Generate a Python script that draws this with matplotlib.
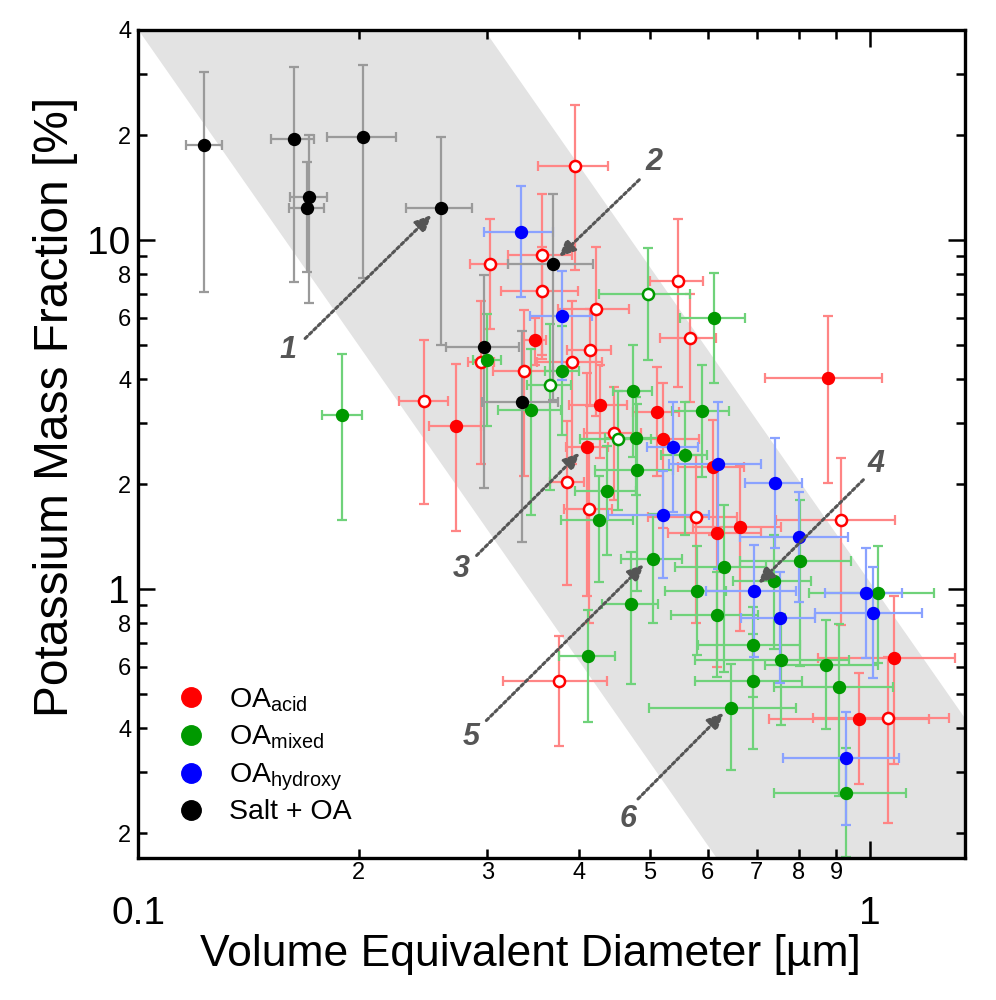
import matplotlib
matplotlib.use('Agg')
import matplotlib.pyplot as plt
from matplotlib.ticker import FixedLocator, FixedFormatter
import numpy as np

plt.rcParams['font.family'] = ['Liberation Sans Narrow', 'Liberation Sans', 'DejaVu Sans']

# ---- data: diameter [um], K mass fraction [%], symmetric errors ----
# OA acid (red); hollow = open marker
acid_x = [0.272, 0.348, 0.427, 0.411, 0.512, 0.521, 0.610, 0.619, 0.664, 0.878, 0.967, 1.078,
          0.395, 0.356, 0.356, 0.302, 0.422, 0.414, 0.391, 0.546, 0.567, 0.337, 0.447, 0.386,
          0.413, 0.578, 0.246, 0.294, 0.376, 0.914, 1.060]
acid_y = [2.94, 5.19, 3.38, 2.56, 3.22, 2.70, 2.24, 1.45, 1.51, 4.04, 0.426, 0.636,
          16.3, 9.06, 7.14, 8.52, 6.34, 4.86, 4.48, 7.63, 5.23, 4.22, 2.80, 2.03,
          1.70, 1.61, 3.46, 4.48, 0.546, 1.58, 0.428]
acid_xerr = [0.022, 0.013, 0.039, 0.027, 0.037, 0.063, 0.063, 0.090, 0.091, 0.160, 0.239, 0.228,
             0.043, 0.036, 0.043, 0.018, 0.047, 0.029, 0.040, 0.046, 0.050, 0.032, 0.040, 0.021,
             0.031, 0.081, 0.019, 0.012, 0.061, 0.169, 0.223]
acid_yerr = [1.47, 0.8, 1.0, 1.6, 1.11, 1.2, 0.81, 0.85, 0.75, 2.02, 0.149, 0.32,
             8.1, 4.5, 2.45, 2.95, 3.2, 1.5, 2.2, 3.84, 1.8, 2.11, 1.0, 1.0,
             0.9, 0.81, 1.71, 2.2, 0.19, 0.79, 0.214]
acid_hollow = [False] * 12 + [True] * 19

# OA mixed (green)
mixed_x = [0.190, 0.300, 0.344, 0.380, 0.613, 0.475, 0.589, 0.479, 0.559, 0.480, 0.437, 0.426,
           0.505, 0.631, 0.580, 0.619, 0.472, 0.412, 0.646, 0.692, 0.692, 0.757, 0.872, 0.907,
           0.929, 1.025, 0.740, 0.803, 0.365, 0.452, 0.497]
mixed_y = [3.15, 4.53, 3.26, 4.22, 5.97, 3.70, 3.24, 2.71, 2.43, 2.19, 1.91, 1.58,
           1.22, 1.16, 0.987, 0.842, 0.906, 0.644, 0.457, 0.546, 0.691, 0.628, 0.608, 0.526,
           0.261, 0.975, 1.054, 1.203, 3.84, 2.69, 7.0]
mixed_xerr = [0.012, 0.013, 0.034, 0.020, 0.063, 0.029, 0.052, 0.045, 0.040, 0.059, 0.042, 0.048,
              0.048, 0.090, 0.055, 0.085, 0.041, 0.036, 0.147, 0.116, 0.110, 0.180, 0.153, 0.168,
              0.190, 0.200, 0.090, 0.139, 0.025, 0.050, 0.071]
mixed_yerr = [1.57, 1.6, 1.63, 1.46, 2.06, 1.3, 1.14, 0.85, 1.0, 1.2, 0.66, 0.53,
              0.42, 0.58, 0.34, 0.28, 0.37, 0.227, 0.153, 0.198, 0.2, 0.22, 0.21, 0.27,
              0.09, 0.36, 0.38, 0.6, 1.92, 1.0, 2.47]
mixed_hollow = [False] * 28 + [True] * 3

# OA hydroxy (blue)
hydroxy_x = [0.333, 0.380, 0.539, 0.621, 0.742, 0.521, 0.799, 0.695, 0.754, 0.987, 1.010, 0.929]
hydroxy_y = [10.56, 6.07, 2.55, 2.29, 2.01, 1.63, 1.41, 0.989, 0.830, 0.977, 0.856, 0.329]
hydroxy_xerr = [0.036, 0.037, 0.043, 0.090, 0.067, 0.082, 0.134, 0.097, 0.087, 0.118, 0.168, 0.169]
hydroxy_yerr = [3.7, 2.1, 0.88, 1.15, 0.70, 0.55, 0.49, 0.35, 0.29, 0.34, 0.30, 0.117]

# Salt + OA (black)
salt_x = [0.123, 0.163, 0.171, 0.170, 0.203, 0.259, 0.369, 0.297, 0.335]
salt_y = [18.7, 19.5, 13.3, 12.4, 19.8, 12.4, 8.53, 4.95, 3.44]
salt_xerr = [0.007, 0.011, 0.010, 0.0094, 0.022, 0.027, 0.049, 0.034, 0.040]
salt_yerr = [11.6, 11.9, 6.7, 4.3, 12.0, 7.4, 5.05, 3.0, 2.07]

# grey band: K mass fraction = c * d^-3
band_lo, band_hi = 0.04, 1.05

# numbered arrows: label position, tail, head
arrow_labels = ['1', '2', '3', '4', '5', '6']
arrow_text = [(0.160, 4.84), (0.507, 16.8), (0.276, 1.146), (1.019, 2.29), (0.285, 0.377), (0.467, 0.220)]
arrow_tail = [(0.169, 5.23), (0.484, 14.9), (0.290, 1.25), (0.980, 2.06), (0.299, 0.421), (0.482, 0.251)]
arrow_head = [(0.2515, 11.8), (0.376, 8.96), (0.401, 2.46), (0.704, 1.038), (0.491, 1.179), (0.631, 0.443)]

x_major = [0.1, 1]
x_major_labels = ['0.1', '1']
x_minor = [0.2, 0.3, 0.4, 0.5, 0.6, 0.7, 0.8, 0.9]
x_minor_labels = ['2', '3', '4', '5', '6', '7', '8', '9']
y_major = [1, 10]
y_major_labels = ['1', '10']
y_minor = [0.2, 0.3, 0.4, 0.5, 0.6, 0.7, 0.8, 0.9, 2, 3, 4, 5, 6, 7, 8, 9, 20, 30, 40]
y_minor_labels = ['2', '', '4', '', '6', '', '8', '', '2', '', '4', '', '6', '', '8', '', '2', '', '4']

groups = [
    (acid_x, acid_y, acid_xerr, acid_yerr, acid_hollow, '#ff0000', '#ff8585'),
    (mixed_x, mixed_y, mixed_xerr, mixed_yerr, mixed_hollow, '#009900', '#6fd27a'),
    (hydroxy_x, hydroxy_y, hydroxy_xerr, hydroxy_yerr, [False] * 12, '#0000ff', '#8aa2ff'),
    (salt_x, salt_y, salt_xerr, salt_yerr, [False] * 9, '#000000', '#9a9a9a'),
]
legend_names = [r'OA$_\mathregular{acid}$', r'OA$_\mathregular{mixed}$',
                r'OA$_\mathregular{hydroxy}$', 'Salt + OA']

fig = plt.figure(figsize=(9.96, 10), dpi=100)
ax = fig.add_axes([0.139, 0.142, 0.830, 0.828])
ax.set_xscale('log')
ax.set_yscale('log')
ax.set_xlim(0.1, 1.35)
ax.set_ylim(0.17, 40)

xb = np.logspace(-1, np.log10(1.35), 60)
ax.fill_between(xb, band_lo * xb ** -3, band_hi * xb ** -3, color='#e3e3e3', lw=0, zorder=0)

# error bars first, markers on top
for xs, ys, xe, ye, hol, col, bcol in groups:
    ax.errorbar(xs, ys, xerr=xe, yerr=ye, fmt='none', ecolor=bcol, elinewidth=1.6,
                capsize=3.4, capthick=1.6, zorder=2)
for xs, ys, xe, ye, hol, col, bcol in groups:
    xs, ys, hol = np.array(xs), np.array(ys), np.array(hol)
    ax.plot(xs[~hol], ys[~hol], 'o', ms=8.6, color=col, mec=col, zorder=3)
    if hol.any():
        ax.plot(xs[hol], ys[hol], 'o', ms=8.0, mfc='white', mec=col, mew=1.8, zorder=3)

for lab, tpos, tail, head in zip(arrow_labels, arrow_text, arrow_tail, arrow_head):
    ax.annotate('', xy=head, xytext=tail,
                arrowprops=dict(arrowstyle='-|>,head_length=0.6,head_width=0.28',
                                color='#555555', lw=2.2, linestyle=(0, (1, 1)),
                                mutation_scale=16, shrinkA=0, shrinkB=0),
                zorder=5)
    ax.text(tpos[0], tpos[1], lab, fontsize=22, fontweight='bold', fontstyle='italic',
            color='#555555', ha='center', va='center', family=['Liberation Sans', 'DejaVu Sans'],
            zorder=5)

# legend drawn by hand
for i, (g, name) in enumerate(zip(groups, legend_names)):
    yy = 0.194 - i * 0.0454
    ax.plot([0.0637], [yy], 'o', ms=14, color=g[5], transform=ax.transAxes, clip_on=False, zorder=6)
    ax.text(0.110, yy - 0.0113, name, transform=ax.transAxes, fontsize=20.5, va='baseline',
            ha='left', family=['Liberation Sans', 'DejaVu Sans'], zorder=6)

ax.xaxis.set_major_locator(FixedLocator(x_major))
ax.xaxis.set_major_formatter(FixedFormatter(x_major_labels))
ax.xaxis.set_minor_locator(FixedLocator(x_minor))
ax.xaxis.set_minor_formatter(FixedFormatter(x_minor_labels))
ax.yaxis.set_major_locator(FixedLocator(y_major))
ax.yaxis.set_major_formatter(FixedFormatter(y_major_labels))
ax.yaxis.set_minor_locator(FixedLocator(y_minor))
ax.yaxis.set_minor_formatter(FixedFormatter(y_minor_labels))

ax.tick_params(which='both', direction='in', top=True, right=True, width=1.8)
ax.tick_params(which='major', length=12, labelsize=28)
ax.tick_params(which='minor', length=6.5, labelsize=17)
ax.tick_params(axis='x', which='major', pad=27)
ax.tick_params(axis='x', which='minor', pad=3)
ax.tick_params(axis='y', which='major', pad=6)
ax.tick_params(axis='y', which='minor', pad=5)
for sp in ax.spines.values():
    sp.set_linewidth(2.4)

ax.set_xlabel('Volume Equivalent Diameter [µm]', fontsize=32)
ax.set_ylabel('Potassium Mass Fraction [%]', fontsize=34.5)
ax.xaxis.set_label_coords(0.474, -0.117)
ax.xaxis.label.set_va('center')
ax.yaxis.set_label_coords(-0.10, 0.545)
ax.yaxis.label.set_va('center')

fig.savefig('out.png', dpi=100)
